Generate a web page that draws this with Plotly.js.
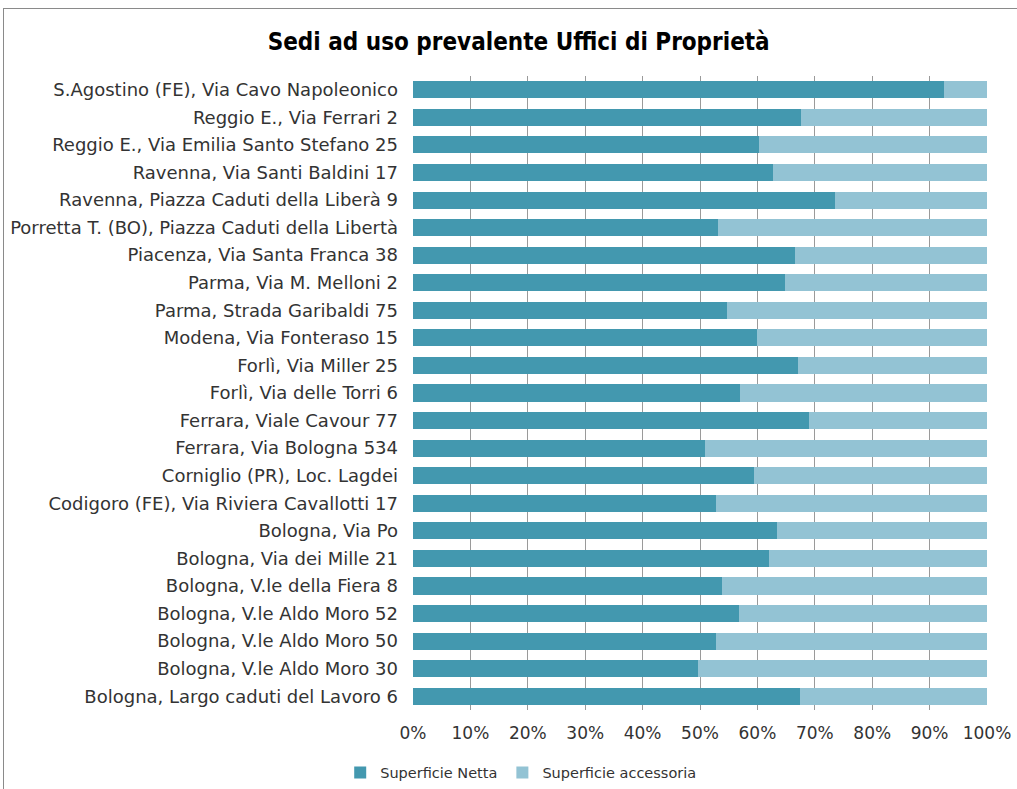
<!DOCTYPE html>
<html>
<head>
<meta charset="utf-8">
<script src="https://cdn.plot.ly/plotly-3.0.1.min.js"></script>
<style>
body{margin:0;padding:0;background:#fff;overflow:hidden;}
#frame{position:absolute;left:3px;top:8px;width:1100px;height:900px;border:1px solid #8a8a8a;}
#chart{position:absolute;left:0;top:0;width:1017px;height:789px;}
</style>
</head>
<body>
<div id="frame"></div>
<div id="chart"></div>
<script>
const categories = [
  "S.Agostino (FE), Via Cavo Napoleonico",
  "Reggio E., Via Ferrari 2",
  "Reggio E., Via Emilia Santo Stefano 25",
  "Ravenna, Via Santi Baldini 17",
  "Ravenna, Piazza Caduti della Liberà 9",
  "Porretta T. (BO), Piazza Caduti della Libertà",
  "Piacenza, Via Santa Franca 38",
  "Parma, Via M. Melloni 2",
  "Parma, Strada Garibaldi 75",
  "Modena, Via Fonteraso 15",
  "Forlì, Via Miller 25",
  "Forlì, Via delle Torri 6",
  "Ferrara, Viale Cavour 77",
  "Ferrara, Via Bologna 534",
  "Corniglio (PR), Loc. Lagdei",
  "Codigoro (FE), Via Riviera Cavallotti 17",
  "Bologna, Via Po",
  "Bologna, Via dei Mille 21",
  "Bologna, V.le della Fiera 8",
  "Bologna, V.le Aldo Moro 52",
  "Bologna, V.le Aldo Moro 50",
  "Bologna, V.le Aldo Moro 30",
  "Bologna, Largo caduti del Lavoro 6"
];
const netta = [92.5, 67.6, 60.2, 62.8, 73.6, 53.2, 66.6, 64.8, 54.7, 60.0, 67.1, 57.0, 69.0, 50.9, 59.4, 52.8, 63.4, 62.1, 53.8, 56.8, 52.7, 49.7, 67.5];
const accessoria = netta.map(v => +(100 - v).toFixed(1));
const tickVals = [0,10,20,30,40,50,60,70,80,90,100];
const tickText = ["0%","10%","20%","30%","40%","50%","60%","70%","80%","90%","100%"];

const labelFont = "'DejaVu Sans', sans-serif";
const titleFont = "'DejaVu Sans Condensed', 'DejaVu Sans', sans-serif";
const legendFont = "'DejaVu Sans', sans-serif";

const traces = [
  {type:'bar', orientation:'h', name:'Superficie Netta', y:categories, x:netta,
   marker:{color:'#4398AF'}},
  {type:'bar', orientation:'h', name:'Superficie accessoria', y:categories, x:accessoria,
   marker:{color:'#93C3D4'}}
];

const layout = {
  width:1017, height:789,
  barmode:'stack', bargap:0.38,
  paper_bgcolor:'rgba(0,0,0,0)', plot_bgcolor:'#fff',
  margin:{l:413, r:30, t:76, b:79},
  title:{text:'<b>Sedi ad uso prevalente Uffici di Proprietà</b>', x:0.51, xanchor:'center', y:0.947, yanchor:'middle',
         font:{family:titleFont, size:24, color:'#000'}},
  xaxis:{range:[0,100], tickvals:tickVals, ticktext:tickText, showgrid:true, gridcolor:'#9a9a9a', gridwidth:1,
         zeroline:false, showline:false, ticks:'', ticklabelstandoff:11,
         tickfont:{family:labelFont, size:17, color:'#333'}},
  yaxis:{autorange:'reversed', showgrid:false, zeroline:false, showline:false, ticks:'', ticklabelstandoff:14,
         tickfont:{family:labelFont, size:18, color:'#333'}, automargin:false},
  legend:{orientation:'h', xref:'container', x:0.512, xanchor:'center', yref:'container', y:0.041, yanchor:'top',
          font:{family:legendFont, size:14.5, color:'#333'}, traceorder:'normal'},
  showlegend:true
};

Plotly.newPlot('chart', traces, layout, {displayModeBar:false, staticPlot:true});
</script>
</body>
</html>
